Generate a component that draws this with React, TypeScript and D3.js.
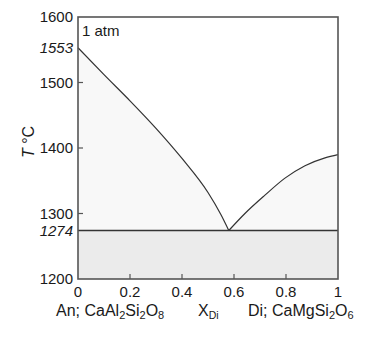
import React from "react";
import * as d3 from "d3";

const leftBranchX = [0, 0.1, 0.2, 0.3, 0.4, 0.5, 0.55, 0.58];
const leftBranchT = [1553, 1512, 1472, 1430, 1384, 1332, 1298, 1274];
const rightBranchX = [0.58, 0.642, 0.719, 0.796, 0.873, 0.95, 1.0];
const rightBranchT = [1274, 1300, 1328, 1354, 1373, 1385, 1390];
const xTicks = [0, 0.2, 0.4, 0.6, 0.8, 1];
const xTickLabels = ["0", "0.2", "0.4", "0.6", "0.8", "1"];
const yTicks = [1200, 1300, 1400, 1500, 1600];
const yTickLabels = ["1200", "1300", "1400", "1500", "1600"];
const specialT = [1553, 1274];
const eutecticT = 1274;

const W = 382, H = 338;
const M = { left: 78, right: 338, top: 17, bottom: 279 };

export default function App() {
  const x = d3.scaleLinear().domain([0, 1]).range([M.left, M.right]);
  const y = d3.scaleLinear().domain([1200, 1600]).range([M.bottom, M.top]);
  const left: [number, number][] = leftBranchX.map((v, i) => [v, leftBranchT[i]]);
  const right: [number, number][] = rightBranchX.map((v, i) => [v, rightBranchT[i]]);
  const line = d3.line<[number, number]>().x(d => x(d[0])).y(d => y(d[1])).curve(d3.curveMonotoneX);
  const area = d3.area<[number, number]>().x(d => x(d[0])).y0(y(eutecticT)).y1(d => y(d[1])).curve(d3.curveMonotoneX);
  const font = "'Liberation Sans', Arial, sans-serif";
  const axisColor = "#555";
  const txt = "#1a1a1a";
  return (
    <svg width={W} height={H} style={{ display: "block", position: "absolute", left: 0, top: 0 }} fontFamily={font}>
      <rect x={0} y={0} width={W} height={H} fill="#fff" />
      <path d={area(left) || ""} fill="#f8f8f8" />
      <path d={area(right) || ""} fill="#f8f8f8" />
      <rect x={x(0)} y={y(eutecticT)} width={x(1) - x(0)} height={y(1200) - y(eutecticT)} fill="#ebebeb" />
      <path d={line(left) || ""} fill="none" stroke="#333" strokeWidth={1.2} />
      <path d={line(right) || ""} fill="none" stroke="#333" strokeWidth={1.2} />
      <line x1={x(0)} x2={x(1)} y1={y(eutecticT)} y2={y(eutecticT)} stroke="#333" strokeWidth={1.5} />
      {yTicks.slice(1, -1).map(t => (
        <line key={"yt" + t} x1={x(0)} x2={x(0) + 5} y1={y(t)} y2={y(t)} stroke={axisColor} strokeWidth={1.2} />
      ))}
      {xTicks.slice(1, -1).map(t => (
        <line key={"xt" + t} x1={x(t)} x2={x(t)} y1={y(1200)} y2={y(1200) - 5} stroke={axisColor} strokeWidth={1.2} />
      ))}
      <rect x={x(0)} y={y(1600)} width={x(1) - x(0)} height={y(1200) - y(1600)} fill="none" stroke={axisColor} strokeWidth={1.6} />
      {yTicks.map((t, i) => (
        <text key={"yl" + t} x={x(0) - 5} y={y(t) + 5} textAnchor="end" fontSize={15} fill={txt}>{yTickLabels[i]}</text>
      ))}
      {specialT.map(t => (
        <text key={"sl" + t} x={x(0) - 5} y={y(t) + 5} textAnchor="end" fontSize={15} fontStyle="italic" fill={txt}>{t}</text>
      ))}
      {xTicks.map((t, i) => (
        <text key={"xl" + t} x={x(t)} y={297} textAnchor="middle" fontSize={15} fill={txt}>{xTickLabels[i]}</text>
      ))}
      <text x={x(0) + 4} y={35.5} fontSize={15} fill={txt}>1 atm</text>
      <text x={56} y={316} fontSize={16} fill={txt}>
        An; CaAl<tspan fontSize={11} dy={3}>2</tspan><tspan dy={-3}>Si</tspan><tspan fontSize={11} dy={3}>2</tspan><tspan dy={-3}>O</tspan><tspan fontSize={11} dy={3}>8</tspan>
      </text>
      <text x={198} y={316} fontSize={16} fill={txt}>
        X<tspan fontSize={10.5} dy={3}>Di</tspan>
      </text>
      <text x={248} y={316} fontSize={16} fill={txt}>
        Di; CaMgSi<tspan fontSize={11} dy={3}>2</tspan><tspan dy={-3}>O</tspan><tspan fontSize={11} dy={3}>6</tspan>
      </text>
      <text transform={`translate(34,142) rotate(-90)`} textAnchor="middle" fontSize={16} fill={txt}>
        <tspan fontStyle="italic">T</tspan> °C
      </text>
    </svg>
  );
}
